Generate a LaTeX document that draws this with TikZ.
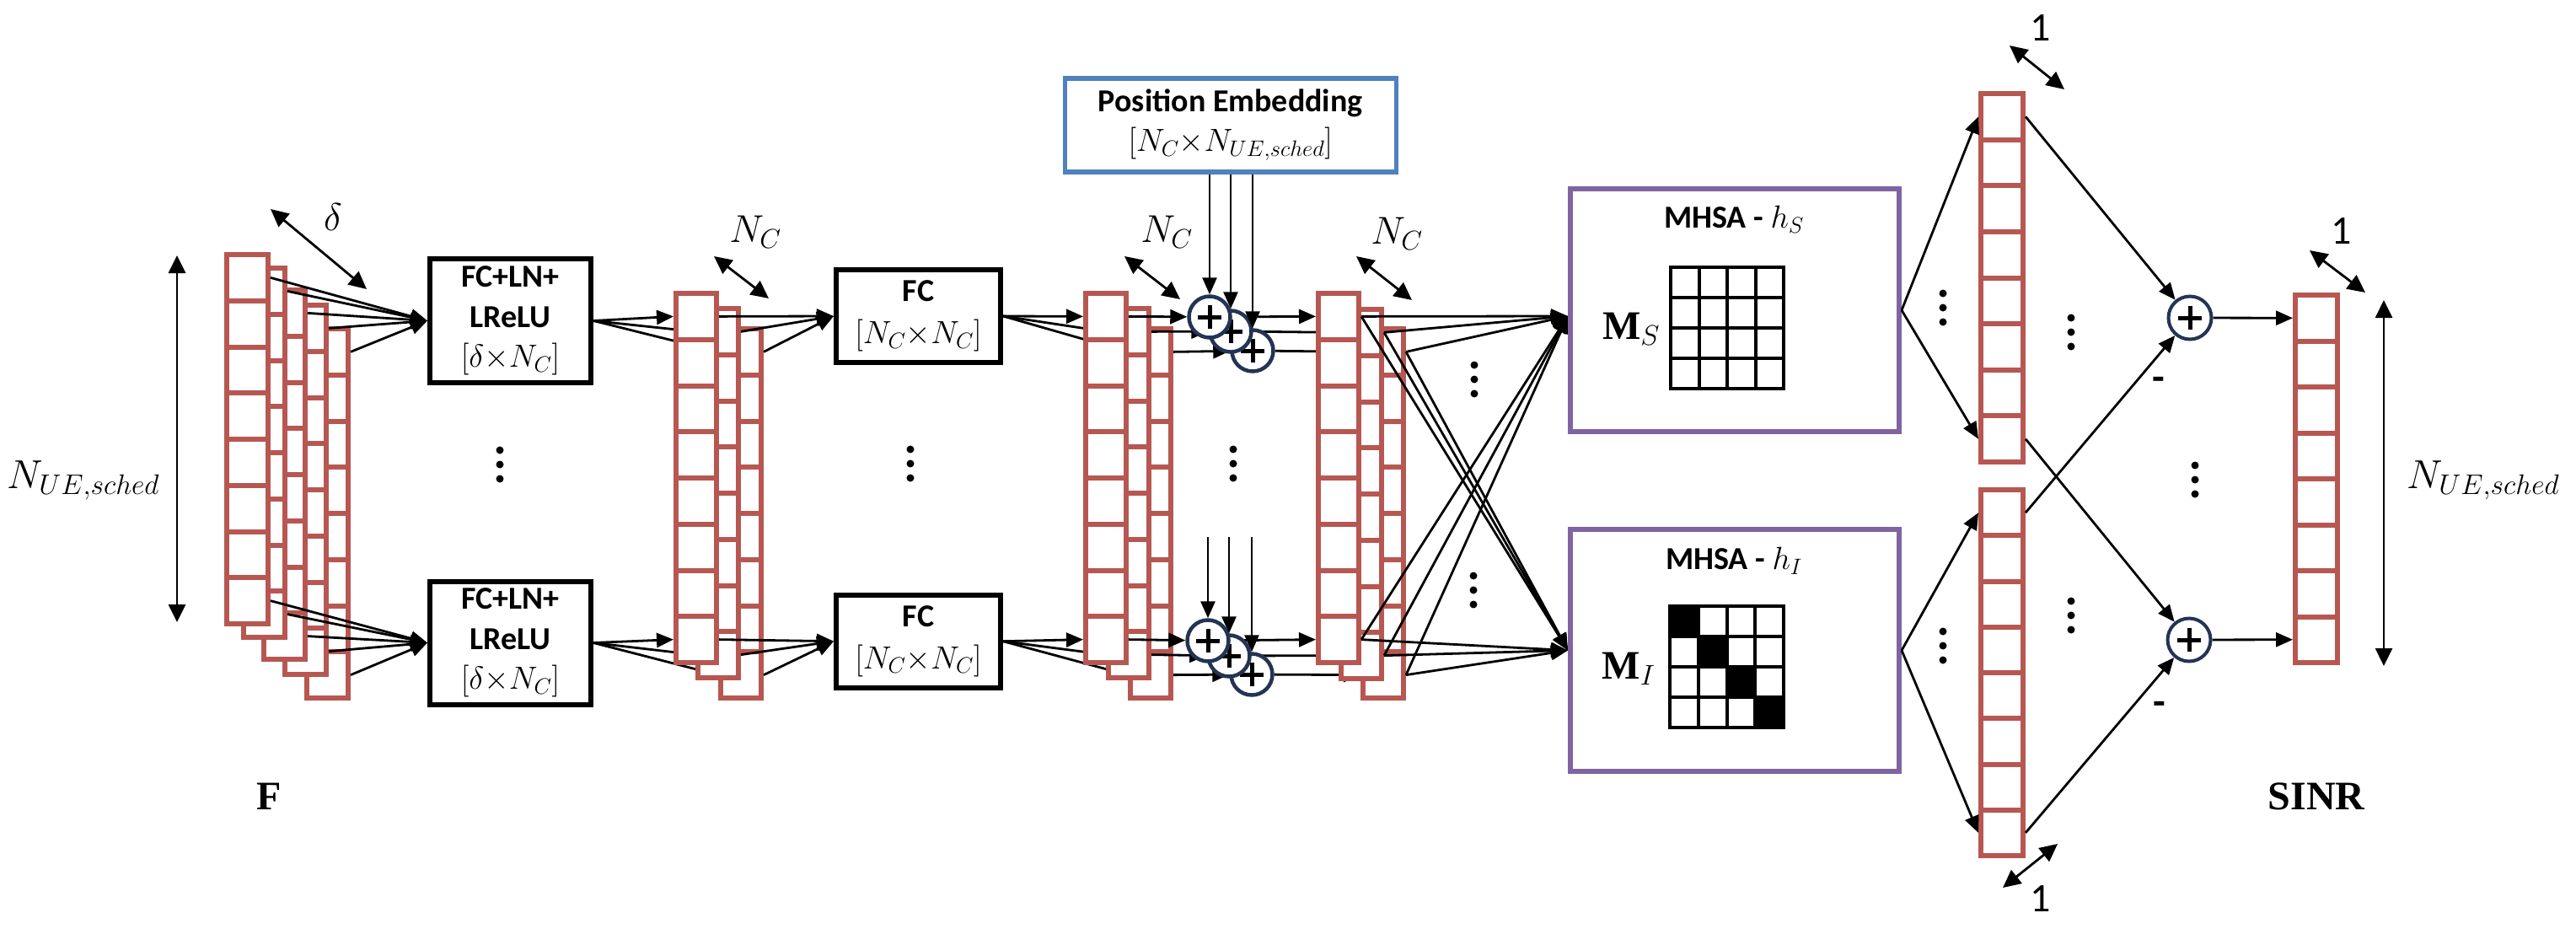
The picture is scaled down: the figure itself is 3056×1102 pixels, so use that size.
\documentclass[tikz,border=0pt]{standalone}
\usepackage{fix-cm}
\usepackage[no-math]{fontspec}
\setmainfont{Carlito}
\newfontfamily\capserif{Liberation Serif}
\usetikzlibrary{arrows.meta,calc}
\definecolor{colred}{RGB}{183,87,82}
\definecolor{peblue}{RGB}{79,129,189}
\definecolor{mhpurple}{RGB}{128,100,162}
\definecolor{plusnavy}{RGB}{35,52,84}
\pgfdeclarelayer{back}
\pgfdeclarelayer{front}
\pgfdeclarelayer{top}
\pgfsetlayers{back,main,front,top}
\newcommand{\bigfont}{\fontsize{46}{52}\selectfont}
\newcommand{\hugefont}{\fontsize{48}{56}\selectfont}
\newcommand{\boxfont}{\fontsize{38}{47.5}\selectfont}
\tikzset{
  colbox/.style={draw=colred, line width=6pt, fill=white, rectangle, inner sep=0pt, outer sep=0pt, anchor=north west},
  colline/.style={draw=colred, line width=6pt},
  blkbox/.style={draw=black, line width=6pt, fill=white, rectangle, inner sep=0pt, align=center, font=\boxfont\bfseries},
  pebox/.style={draw=peblue, line width=5.5pt, fill=white, rectangle, inner sep=0pt, align=center, font=\boxfont\bfseries},
  mhbox/.style={draw=mhpurple, line width=6pt, fill=white, rectangle, inner sep=0pt},
  gridbox/.style={draw=black, line width=4pt, rectangle, inner sep=0pt, outer sep=0pt},
  gridline/.style={line width=4pt},
  conn/.style={line width=2.8pt, -{Triangle[length=20pt,width=17pt]}},
  dimarrow/.style={line width=2.8pt, {Triangle[length=21pt,width=20pt]}-{Triangle[length=21pt,width=20pt]}},
  plusc/.style={circle, draw=plusnavy, line width=4.5pt, fill=white, minimum size=49pt, inner sep=0pt,
    path picture={\draw[line width=5pt,black] ([xshift=-14pt]path picture bounding box.center) -- ([xshift=14pt]path picture bounding box.center) ([yshift=-14pt]path picture bounding box.center) -- ([yshift=14pt]path picture bounding box.center);}},
  lbl/.style={font=\bigfont, inner sep=0pt},
}
\newcommand{\vcol}[5]{%
  \pgfmathsetmacro{\cw}{#4-6}\pgfmathsetmacro{\ch}{#5-6}%
  \node[colbox, minimum width=\cw pt, minimum height=\ch pt] (#1) at (#2+3,#3+3) {};
  \foreach \k in {1,...,7}{\draw[colline] ($(#1.north west)!{\k/8}!(#1.south west)$) -- ($(#1.north east)!{\k/8}!(#1.south east)$);}
  \coordinate (#1-tw) at ($(#1.north west)!0.0625!(#1.south west)+(-3,0)$);
  \coordinate (#1-te) at ($(#1.north east)!0.0625!(#1.south east)+(3,0)$);
  \coordinate (#1-bw) at ($(#1.north west)!0.9375!(#1.south west)+(-3,0)$);
  \coordinate (#1-be) at ($(#1.north east)!0.9375!(#1.south east)+(3,0)$);
}
\newcommand{\threedots}[2]{\fill (#1,#2-17) circle[radius=4.5pt] (#1,#2) circle[radius=4.5pt] (#1,#2+17) circle[radius=4.5pt];}
\begin{document}
\begin{tikzpicture}[x=1pt,y=-1pt]
\useasboundingbox (0,0) rectangle (3056,1102);

% ---------- stacks of columns ----------
\vcol{F5}{361}{387}{55}{444}
\vcol{F4}{335}{359}{55}{444}
\vcol{F3}{310}{341}{55}{444}
\vcol{F2}{286}{315}{55}{444}
\vcol{F1}{266}{299}{55}{444}
\vcol{A3}{852}{387}{54}{444}
\vcol{A2}{825}{363}{54}{444}
\vcol{A1}{799}{345}{54}{444}
\vcol{B3}{1338}{387}{54}{444}
\vcol{B2}{1312}{363}{54}{444}
\vcol{B1}{1285}{345}{54}{444}
\vcol{C3}{1614}{387}{54}{444}
\vcol{C2}{1588}{364}{54}{444}
\vcol{C1}{1561}{345}{54}{444}
\vcol{U}{2347}{108}{56}{443}
\vcol{L}{2347}{578}{56}{440}
\vcol{Q}{2720}{347}{56}{442}

% ---------- boxes ----------
\node[blkbox, minimum width=191pt, minimum height=147pt] (FCa) at (605.5,380.5) {FC+LN+\\LReLU\\$[\delta{\times}N_C]$};
\node[blkbox, minimum width=191pt, minimum height=146pt] (FCb) at (605.5,762.5) {FC+LN+\\LReLU\\$[\delta{\times}N_C]$};
\node[blkbox, minimum width=195pt, minimum height=110pt] (FC1) at (1089.5,375) {FC\\[2pt]$[N_C{\times}N_C]$};
\node[blkbox, minimum width=195pt, minimum height=110pt] (FC2) at (1089.5,760.7) {FC\\[2pt]$[N_C{\times}N_C]$};
\node[pebox, minimum width=393pt, minimum height=111pt] (PE) at (1459.75,148.3) {Position Embedding\\$[N_C{\times}N_{UE,sched}]$};
\node[mhbox, minimum width=390pt, minimum height=288pt] (MH1) at (2058,368) {};
\node[mhbox, minimum width=390pt, minimum height=287pt] (MH2) at (2058,771.5) {};

% MHSA contents
\node[font=\boxfont\bfseries, inner sep=0pt] (MH1t) at (2057,260) {MHSA - $h_S$};
\node[font=\boxfont\bfseries, inner sep=0pt] (MH2t) at (2057,665) {MHSA - $h_I$};
\node[font=\hugefont, inner sep=0pt] (MS) at (1935,390) {$\mbox{\capserif\bfseries M}_S$};
\node[font=\hugefont, inner sep=0pt] (MI) at (1932,793) {$\mbox{\capserif\bfseries M}_I$};
\node[gridbox, minimum width=134pt, minimum height=144pt] (GS) at (2049,389) {};
\node[gridbox, minimum width=135pt, minimum height=144pt] (GI) at (2048.5,791) {};
\foreach \k in {0,1,2,3} {\fill ($(GI.north west)+(\k*33.75,\k*36)$) rectangle ++(33.75,36);}
\foreach \g in {GS,GI} {
  \foreach \k in {1,2,3} {
    \draw[gridline] ($(\g.north west)!{\k/4}!(\g.north east)$) -- ($(\g.south west)!{\k/4}!(\g.south east)$);
    \draw[gridline] ($(\g.north west)!{\k/4}!(\g.south west)$) -- ($(\g.north east)!{\k/4}!(\g.south east)$);
  }
}

% ---------- plus circles ----------
\begin{pgfonlayer}{front}
\node[plusc] (P3) at (1486,416) {};
\node[plusc] (P2) at (1460,393) {};
\node[plusc] (P1) at (1435,376) {};
\node[plusc] (R3) at (1485,800) {};
\node[plusc] (R2) at (1458,778) {};
\node[plusc] (R1) at (1433,760) {};
\node[plusc, line width=4pt, minimum size=51pt] (PU) at (2598,377) {};
\node[plusc, line width=4pt, minimum size=51pt] (PL) at (2597,759) {};
\end{pgfonlayer}

% ---------- connectors hidden behind front columns ----------
\begin{pgfonlayer}{back}
\foreach \cn in {A1,A2,A3} {\draw[conn] (FCa.east) -- (\cn-tw); \draw[conn] (FCb.east) -- (\cn-bw);}
\foreach \cn in {B1,B2,B3} {\draw[conn] (FC1.east) -- (\cn-tw); \draw[conn] (FC2.east) -- (\cn-bw);}
\draw[conn] (P2) -- (C2-tw); \draw[conn] (P3) -- (C3-tw);
\draw[conn] (R2) -- (C2-bw); \draw[conn] (R3) -- (C3-bw);
\end{pgfonlayer}

% ---------- visible connectors ----------
\foreach \cn in {F1,F2,F3,F4,F5} {\draw[conn] (\cn-te) -- (FCa.west); \draw[conn] (\cn-be) -- (FCb.west);}
\foreach \cn in {A1,A2,A3} {\draw[conn] (\cn-te) -- (FC1.west); \draw[conn] (\cn-be) -- (FC2.west);}
\draw[conn] (B1-te) -- (P1); \draw[conn] (B2-te) -- (P2); \draw[conn] (B3-te) -- (P3);
\draw[conn] (B1-be) -- (R1); \draw[conn] (B2-be) -- (R2); \draw[conn] (B3-be) -- (R3);
\draw[conn] (P1) -- (C1-tw); \draw[conn] (R1) -- (C1-bw);
\coordinate (MH1in) at ($(MH1.west)+(0,7)$);
\foreach \cn in {C1,C2,C3} {
  \draw[conn] (\cn-te) -- (MH1in); \draw[conn] (\cn-te) -- (MH2.west);
  \draw[conn] (\cn-be) -- (MH1in); \draw[conn] (\cn-be) -- (MH2.west);
}
\draw[conn] (MH1.east) -- (U-tw); \draw[conn] (MH1.east) -- (U-bw);
\draw[conn] (MH2.east) -- (L-tw); \draw[conn] (MH2.east) -- (L-bw);
\draw[conn] (U-te) -- (PU); \draw[conn] (L-te) -- (PU);
\draw[conn] (U-be) -- (PL); \draw[conn] (L-be) -- (PL);
\draw[conn] (PU) -- (Q-tw); \draw[conn] (PL) -- (Q-bw);

\begin{pgfonlayer}{top}
\foreach \p in {P1,P2,P3} {\draw[conn] (PE.south -| \p) -- (\p.north);}
\coordinate (vt) at (1460,637);
\foreach \p in {R1,R2,R3} {\draw[conn] (vt -| \p) -- (\p.north);}
\end{pgfonlayer}

% ---------- dimension arrows and labels ----------
\coordinate (da1) at (321,248); \coordinate (da2) at (435,343);
\draw[dimarrow] (da1) -- (da2);
\node[lbl] (ldelta) at (395,258) {$\delta$};
\coordinate (nl1) at (210,303); \coordinate (nl2) at (210,738);
\draw[dimarrow] (nl1) -- (nl2);
\node[font=\hugefont, inner sep=0pt] (lNl) at (99,570) {$N_{UE,sched}$};
\coordinate (na1) at (847,304); \coordinate (na2) at (912,354);
\draw[dimarrow] (na1) -- (na2);
\node[lbl] (lNa) at (896,275) {$N_C$};
\coordinate (nb1) at (1334,304); \coordinate (nb2) at (1400,355);
\draw[dimarrow] (nb1) -- (nb2);
\node[lbl] (lNb) at (1384,275) {$N_C$};
\coordinate (nc1) at (1609,304); \coordinate (nc2) at (1675,356);
\draw[dimarrow] (nc1) -- (nc2);
\node[lbl] (lNc) at (1657,277) {$N_C$};
\coordinate (o1a) at (2384,54); \coordinate (o1b) at (2449,106);
\draw[dimarrow] (o1a) -- (o1b);
\node[font=\hugefont, inner sep=0pt] (l1a) at (2421,33) {1};
\coordinate (o2a) at (2740,297); \coordinate (o2b) at (2806,347);
\draw[dimarrow] (o2a) -- (o2b);
\node[font=\hugefont, inner sep=0pt] (l1b) at (2778,274) {1};
\coordinate (o3a) at (2376,1053); \coordinate (o3b) at (2441,1001);
\draw[dimarrow] (o3a) -- (o3b);
\node[font=\hugefont, inner sep=0pt] (l1c) at (2421,1066) {1};
\coordinate (nr1) at (2828,356); \coordinate (nr2) at (2828,790);
\draw[dimarrow] (nr1) -- (nr2);
\node[font=\hugefont, inner sep=0pt] (lNr) at (2946,570) {$N_{UE,sched}$};

% minus signs
\node[font=\hugefont\bfseries, inner sep=0pt] (mi1) at (2561,455) {-};
\node[font=\hugefont\bfseries, inner sep=0pt] (mi2) at (2562,840) {-};

% bottom labels
\node[font=\capserif\bfseries\hugefont, inner sep=0pt] (lF) at (319,945) {F};
\node[font=\capserif\bfseries\hugefont, inner sep=0pt] (lSINR) at (2748,945) {SINR};

% ellipsis dots
\threedots{593}{551}
\threedots{1080}{550}
\threedots{1463}{550}
\threedots{1749}{450}
\threedots{1748}{700}
\threedots{2305}{365}
\threedots{2457}{394}
\threedots{2305}{766}
\threedots{2457}{730}
\threedots{2604}{569}
\end{tikzpicture}
\end{document}
